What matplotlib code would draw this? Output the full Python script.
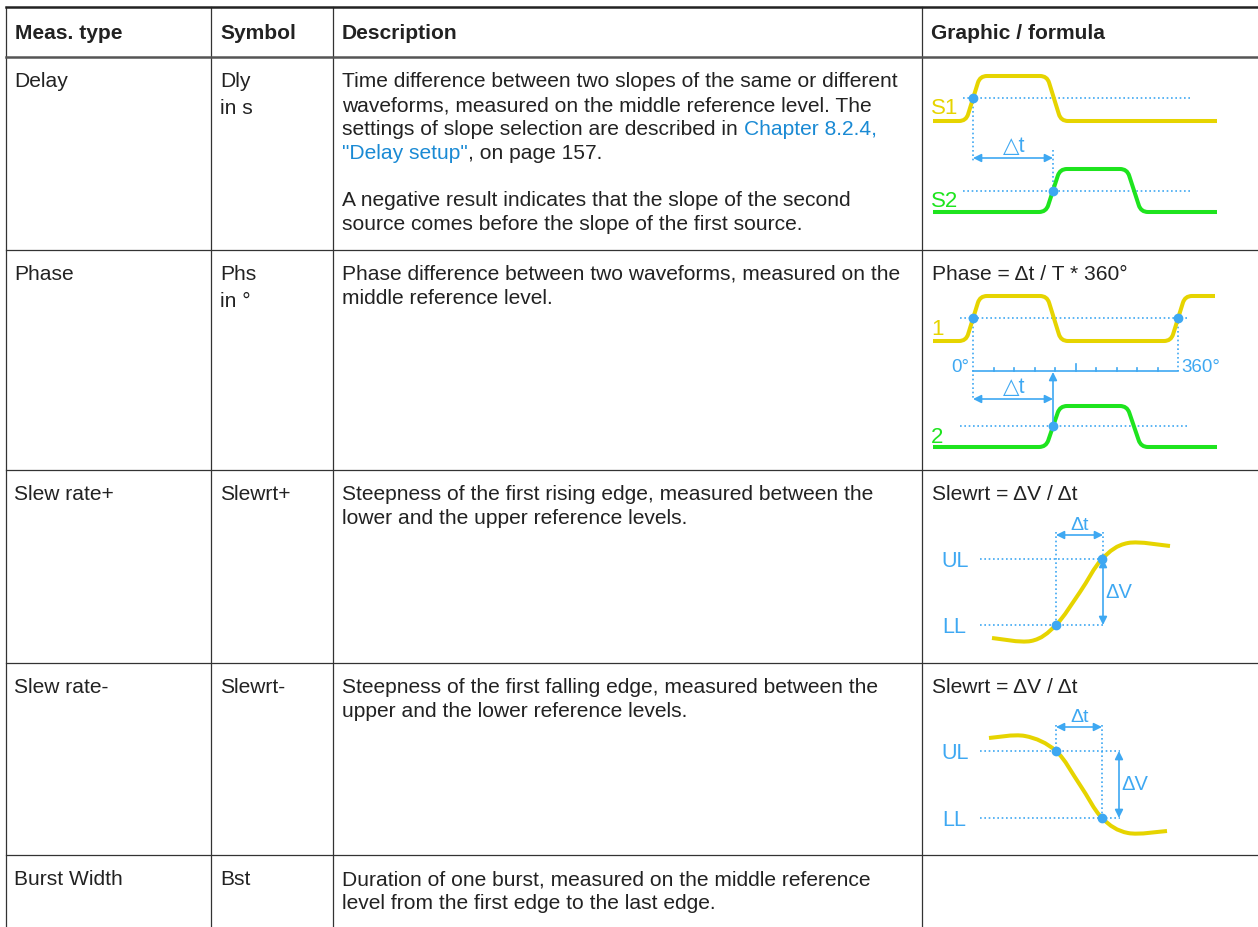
import numpy as np
import matplotlib
matplotlib.use("Agg")
import matplotlib.pyplot as plt
from matplotlib.path import Path
from matplotlib.patches import PathPatch

plt.rcParams['font.family'] = ['Liberation Sans', 'DejaVu Sans']

# ---- table content ----
headers = ["Meas. type", "Symbol", "Description", "Graphic / formula"]
meas_types = ["Delay", "Phase", "Slew rate+", "Slew rate-", "Burst Width"]
symbols = ["Dly", "Phs", "Slewrt+", "Slewrt-", "Bst"]
units = ["in s", "in °", "", "", ""]
# each description: list of paragraphs, each paragraph a list of lines,
# each line a list of (text, is_link) pieces
descriptions = [
    [[[("Time difference between two slopes of the same or different", False)],
      [("waveforms, measured on the middle reference level. The", False)],
      [("settings of slope selection are described in ", False), ("Chapter 8.2.4,", True)],
      [('"Delay setup"', True), (", on page 157.", False)]],
     [[("A negative result indicates that the slope of the second", False)],
      [("source comes before the slope of the first source.", False)]]],
    [[[("Phase difference between two waveforms, measured on the", False)],
      [("middle reference level.", False)]]],
    [[[("Steepness of the first rising edge, measured between the", False)],
      [("lower and the upper reference levels.", False)]]],
    [[[("Steepness of the first falling edge, measured between the", False)],
      [("upper and the lower reference levels.", False)]]],
    [[[("Duration of one burst, measured on the middle reference", False)],
      [("level from the first edge to the last edge.", False)]]],
]
formulas = ["", "Phase = Δt / T * 360°", "Slewrt = ΔV / Δt", "Slewrt = ΔV / Δt", ""]

# ---- waveform vertices (pixel space of the page) ----
s1_pts = [(933, 121), (966, 121), (980, 76), (1047, 76), (1061, 121), (1217, 121)]
s2_pts = [(933, 212), (1046, 212), (1060, 169), (1127, 169), (1141, 212), (1217, 212)]
ph1_pts = [(933, 341), (966, 341), (980, 296), (1047, 296), (1061, 341),
           (1171, 341), (1185, 296), (1215, 296)]
ph2_pts = [(933, 447), (1046, 447), (1060, 406), (1127, 406), (1141, 447), (1217, 447)]
slew_up_pts = [(992, 638), (1031, 641), (1056, 625), (1080, 592),
               (1102, 559), (1128, 543), (1170, 546)]
slew_dn_pts = [(989, 738), (1025, 736), (1056, 751), (1080, 785),
               (1102, 818), (1128, 833), (1167, 831)]
phase_ticks = [973, 994, 1014, 1035, 1055, 1076, 1096, 1117, 1137, 1158, 1178]

col_x = [6, 211, 333, 922]
row_y = [7, 57, 250, 470, 663, 855]

TEXT = '#222222'
LINK = '#1a8ad4'
BLUE = '#3ea8f2'
YEL = '#e6d400'
GRN = '#1ee41e'
FS = 15.1

fig = plt.figure(figsize=(12.58, 9.27), dpi=100)
ax = fig.add_axes([0, 0, 1, 1])
ax.set_xlim(0, 1258)
ax.set_ylim(927, 0)
ax.axis('off')

# grid
for x in col_x:
    ax.plot([x, x], [row_y[0], 927], color='#333333', lw=0.9)
ax.plot([col_x[0], 1258], [row_y[0], row_y[0]], color='#222222', lw=1.8)
ax.plot([col_x[0], 1258], [row_y[1], row_y[1]], color='#555555', lw=1.8)
for y in row_y[2:]:
    ax.plot([col_x[0], 1258], [y, y], color='#333333', lw=0.9)

# header
for i, h in enumerate(headers):
    ax.text(col_x[i] + 9, 39, h, fontsize=FS, fontweight='bold', color=TEXT, va='baseline')

fig.canvas.draw()
for r in range(5):
    top = row_y[r + 1]
    base = top + 30
    ax.text(col_x[0] + 8, base, meas_types[r], fontsize=FS, color=TEXT, va='baseline')
    ax.text(col_x[1] + 9, base, symbols[r], fontsize=FS, color=TEXT, va='baseline')
    if units[r]:
        ax.text(col_x[1] + 9, base + 27, units[r], fontsize=FS, color=TEXT, va='baseline')
    y = base
    for p, para in enumerate(descriptions[r]):
        if p > 0:
            y += 23
        for line in para:
            prev = None
            for txt, link in line:
                c = LINK if link else TEXT
                if prev is None:
                    prev = ax.text(col_x[2] + 9, y, txt, fontsize=FS, color=c, va='baseline')
                else:
                    prev = ax.annotate(txt, xy=(1, 0), xycoords=prev, fontsize=FS,
                                       color=c, va='bottom')
            y += 24
    if formulas[r]:
        ax.text(col_x[3] + 10, base, formulas[r], fontsize=FS, color=TEXT, va='baseline')


def rounded(pts, rad):
    # polyline with corners rounded by quadratic curves
    verts = [pts[0]]
    codes = [Path.MOVETO]
    for i in range(1, len(pts) - 1):
        p0, p1, p2 = (np.array(pts[i - 1], float), np.array(pts[i], float),
                      np.array(pts[i + 1], float))
        d1 = p1 - p0
        d2 = p2 - p1
        l1 = np.hypot(*d1)
        l2 = np.hypot(*d2)
        rr = min(rad, l1 / 2, l2 / 2)
        verts += [p1 - d1 / l1 * rr, p1, p1 + d2 / l2 * rr]
        codes += [Path.LINETO, Path.CURVE3, Path.CURVE3]
    verts.append(pts[-1])
    codes.append(Path.LINETO)
    return Path(verts, codes)


def smooth(pts):
    # catmull-rom through the points, as cubic bezier segments
    p = [np.array(q, float) for q in pts]
    p = [p[0]] + p + [p[-1]]
    verts = [p[1]]
    codes = [Path.MOVETO]
    for i in range(1, len(p) - 2):
        c1 = p[i] + (p[i + 1] - p[i - 1]) / 6
        c2 = p[i + 1] - (p[i + 2] - p[i]) / 6
        verts += [c1, c2, p[i + 1]]
        codes += [Path.CURVE4] * 3
    return Path(verts, codes)


def wave(path, color):
    ax.add_patch(PathPatch(path, fill=False, edgecolor=color, lw=2.9,
                           capstyle='butt', joinstyle='round', zorder=3))


def dotted(xs, ys):
    ax.plot(xs, ys, color=BLUE, lw=1.2, linestyle=(0, (1, 1.6)), zorder=2)


def dot(x, y):
    ax.plot(x, y, 'o', ms=6, color=BLUE, zorder=4)


def arrow(x0, y0, x1, y1, style='<|-|>'):
    ax.annotate('', xy=(x1, y1), xytext=(x0, y0),
                arrowprops=dict(arrowstyle=style, color=BLUE, lw=1.2,
                                mutation_scale=12, shrinkA=0, shrinkB=0), zorder=4)


# --- Delay graphic ---
wave(rounded(s1_pts, 7), YEL)
wave(rounded(s2_pts, 7), GRN)
dotted([963, 1192], [98, 98])
dotted([963, 1192], [191, 191])
dotted([973, 973], [98, 163])
dotted([1053, 1053], [150, 191])
arrow(973, 158, 1053, 158)
dot(973, 98)
dot(1053, 191)
ax.text(1014, 152, "△t", fontsize=15.5, color=BLUE, ha='center', va='baseline')
ax.text(931, 114, "S1", fontsize=16, color=YEL, va='baseline')
ax.text(931, 207, "S2", fontsize=16, color=GRN, va='baseline')

# --- Phase graphic ---
wave(rounded(ph1_pts, 7), YEL)
wave(rounded(ph2_pts, 7), GRN)
dotted([960, 1188], [318, 318])
dotted([960, 1188], [426, 426])
dotted([973, 973], [318, 399])
dotted([1178, 1178], [318, 371])
ax.plot([phase_ticks[0], phase_ticks[-1]], [371, 371], color=BLUE, lw=1.2)
for tx in phase_ticks[1:-1]:
    h = 7 if tx == phase_ticks[5] else 3
    ax.plot([tx, tx], [371, 371 - h], color=BLUE, lw=1.2)
arrow(1053, 426, 1053, 372, style='-|>')
arrow(973, 399, 1053, 399)
dot(973, 318)
dot(1178, 318)
dot(1053, 426)
ax.text(969, 372, "0°", fontsize=13.5, color=BLUE, ha='right', va='baseline')
ax.text(1181, 372, "360°", fontsize=13.5, color=BLUE, ha='left', va='baseline')
ax.text(1014, 393, "△t", fontsize=15.5, color=BLUE, ha='center', va='baseline')
ax.text(931, 335, "1", fontsize=16, color=YEL, va='baseline')
ax.text(931, 443, "2", fontsize=16, color=GRN, va='baseline')

# --- Slew rate+ graphic ---
wave(smooth(slew_up_pts), YEL)
dotted([980, 1102], [559, 559])
dotted([980, 1105], [625, 625])
dotted([1056, 1056], [532, 625])
dotted([1103, 1103], [532, 559])
arrow(1056, 535, 1103, 535)
arrow(1103, 559, 1103, 625)
dot(1056, 625)
dot(1102, 559)
ax.text(941, 567, "UL", fontsize=15.5, color=BLUE, va='baseline')
ax.text(942, 633, "LL", fontsize=15.5, color=BLUE, va='baseline')
ax.text(1080, 530, "Δt", fontsize=14, color=BLUE, ha='center', va='baseline')
ax.text(1105, 598, "ΔV", fontsize=14.5, color=BLUE, ha='left', va='baseline')

# --- Slew rate- graphic ---
wave(smooth(slew_dn_pts), YEL)
dotted([980, 1120], [751, 751])
dotted([980, 1120], [818, 818])
dotted([1056, 1056], [725, 751])
dotted([1102, 1102], [725, 818])
arrow(1056, 727, 1102, 727)
arrow(1119, 751, 1119, 818)
dot(1056, 751)
dot(1102, 818)
ax.text(941, 759, "UL", fontsize=15.5, color=BLUE, va='baseline')
ax.text(942, 826, "LL", fontsize=15.5, color=BLUE, va='baseline')
ax.text(1080, 722, "Δt", fontsize=14, color=BLUE, ha='center', va='baseline')
ax.text(1121, 790, "ΔV", fontsize=14.5, color=BLUE, ha='left', va='baseline')

fig.savefig("out.png", dpi=100, facecolor='white')
